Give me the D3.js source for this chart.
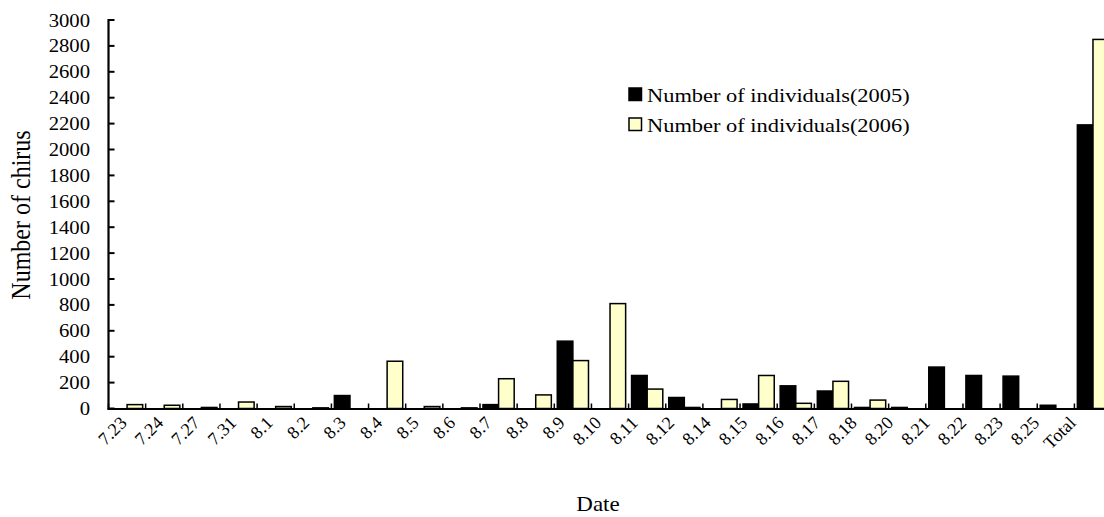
<!DOCTYPE html>
<html>
<head>
<meta charset="utf-8">
<script src="https://cdn.jsdelivr.net/npm/d3@7"></script>
<style>
  html, body { margin: 0; padding: 0; background: #fff; }
  svg { display: block; }
  text { font-family: "Liberation Serif", "Times New Roman", serif; fill: #000; }
</style>
</head>
<body>
<svg id="chart" width="1104" height="517"></svg>
<script>
const dates = ["7.23","7.24","7.27","7.31","8.1","8.2","8.3","8.4","8.5","8.6","8.7","8.8","8.9","8.10","8.11","8.12","8.14","8.15","8.16","8.17","8.18","8.20","8.21","8.22","8.23","8.25","Total"];
const values2005 = [0,0,0,0,0,0,100,0,0,0,30,0,520,0,255,85,0,35,175,135,8,8,320,255,250,25,2190];
const values2006 = [30,25,8,50,15,5,0,365,15,5,230,105,370,810,150,8,70,255,40,210,65,0,0,0,0,0,2850];
const seriesNames = ["Number of individuals(2005)", "Number of individuals(2006)"];
const yTicks = [0,200,400,600,800,1000,1200,1400,1600,1800,2000,2200,2400,2600,2800,3000];

(function () {
const svg = d3.select("#chart");
const SX = 1.15; // horizontal stretch of the original raster text

const plotLeft = 108.5, plotBottom = 408.5, plotTop = 20;
const step = 37.15;
const labelStep = 36.5;
const plotRight = plotLeft + step * dates.length;

const x = d3.scaleBand().domain(dates).range([plotLeft, plotRight]).padding(0);
const xLab = d3.scaleBand().domain(dates).range([plotLeft, plotLeft + labelStep * dates.length]).padding(0);
const xs = d3.scaleBand().domain(["2005","2006"]).range([0, x.bandwidth()]).paddingInner(0).paddingOuter(0.19);
const y = d3.scaleLinear().domain([0, 3000]).range([plotBottom, plotTop]);

const colors = {"2005": "#000000", "2006": "#FFFFCC"};

const rows = dates.map((d, i) => ({date: d, v: {"2005": values2005[i], "2006": values2006[i]}}));

// bars
const g = svg.append("g");
["2005","2006"].forEach(s => {
  g.selectAll(".bar" + s)
    .data(rows.filter(r => r.v[s] > 0))
    .enter().append("rect")
    .attr("x", r => x(r.date) + xs(s))
    .attr("y", r => y(r.v[s]))
    .attr("width", xs.bandwidth())
    .attr("height", r => plotBottom - y(r.v[s]))
    .attr("fill", colors[s])
    .attr("stroke", "#000")
    .attr("stroke-width", 1.5);
});

// y axis
svg.append("line").attr("x1", plotLeft).attr("x2", plotLeft).attr("y1", plotTop - 1).attr("y2", plotBottom + 1)
  .attr("stroke", "#000").attr("stroke-width", 2.2);
svg.selectAll(".ytick").data(yTicks).enter().append("line")
  .attr("x1", plotLeft).attr("x2", plotLeft + 6)
  .attr("y1", d => y(d)).attr("y2", d => y(d))
  .attr("stroke", "#000").attr("stroke-width", 2);
svg.selectAll(".ylab").data(yTicks).enter().append("text")
  .attr("transform", d => `translate(90,${y(d) + 6.5}) scale(${SX},1)`)
  .attr("text-anchor", "end")
  .attr("font-size", 18)
  .text(d => d);

// x axis
svg.append("line").attr("x1", plotLeft - 1).attr("x2", plotRight).attr("y1", plotBottom + 0.5).attr("y2", plotBottom + 0.5)
  .attr("stroke", "#000").attr("stroke-width", 2.2);
const bounds = dates.map(d => x(d)).concat([plotRight]);
svg.selectAll(".xtick").data(bounds).enter().append("line")
  .attr("x1", d => d).attr("x2", d => d)
  .attr("y1", plotBottom).attr("y2", plotBottom - 5)
  .attr("stroke", "#000").attr("stroke-width", 1.5);
svg.selectAll(".xlab").data(dates).enter().append("text")
  .attr("transform", d => `translate(${xLab(d) + xLab.bandwidth() / 2 + 1},424) rotate(-45)`)
  .attr("text-anchor", "end")
  .attr("font-size", 18)
  .text(d => d);

// axis titles
svg.append("text")
  .attr("transform", `translate(598,511) scale(${SX},1)`)
  .attr("text-anchor", "middle")
  .attr("font-size", 20)
  .text("Date");
svg.append("text")
  .attr("transform", `translate(30,215) scale(${SX},1) rotate(-90)`)
  .attr("text-anchor", "middle")
  .attr("font-size", 24)
  .text("Number of chirus");

// legend
const legend = svg.append("g");
["2005","2006"].forEach((s, i) => {
  const ly = 88 + i * 30;
  legend.append("rect").attr("x", 629).attr("y", ly).attr("width", 12.5).attr("height", 12.5)
    .attr("fill", colors[s]).attr("stroke", "#000").attr("stroke-width", 1.5);
  legend.append("text")
    .attr("transform", `translate(647,${ly + 14}) scale(${SX},1)`)
    .attr("font-size", 19.5)
    .text(seriesNames[i]);
});
})();
</script>
</body>
</html>
